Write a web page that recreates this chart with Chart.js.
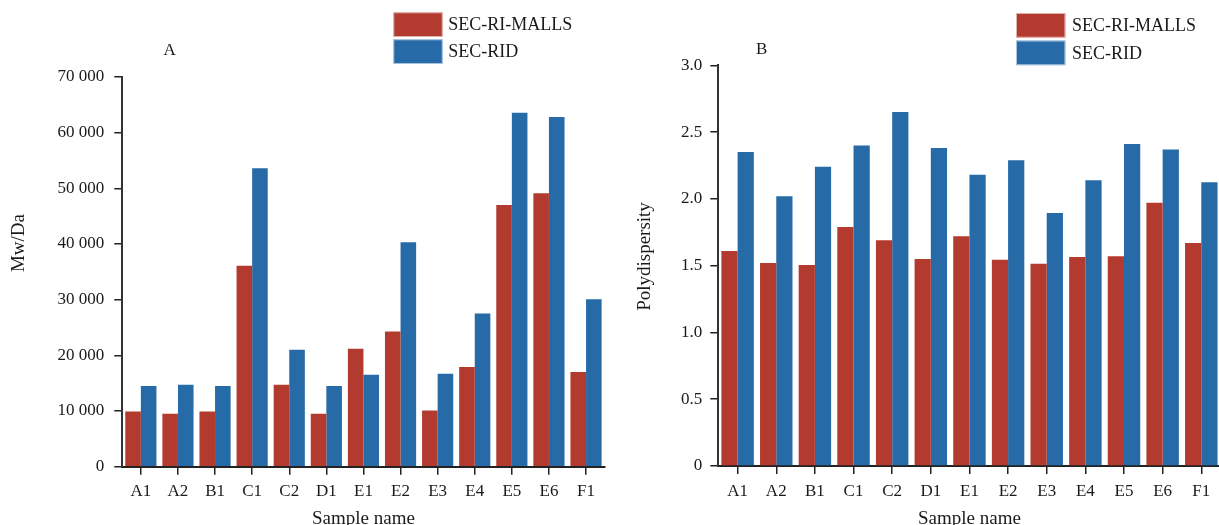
<!DOCTYPE html>
<html>
<head>
<meta charset="utf-8">
<script src="https://cdn.jsdelivr.net/npm/chart.js@4/dist/chart.umd.min.js"></script>
<style>
  html, body { margin: 0; padding: 0; background: #fff; overflow: hidden; }
  #wrap { position: relative; width: 1219px; height: 525px; overflow: hidden; }
  .panel { position: absolute; top: 0; height: 525px; }
  #panelA { left: 0; width: 610px; }
  #panelB { left: 610px; width: 612px; }
</style>
</head>
<body>
<div id="wrap">
  <div class="panel" id="panelA"><canvas id="chartA"></canvas></div>
  <div class="panel" id="panelB"><canvas id="chartB"></canvas></div>
</div>
<script>
// Samples on the category axis
const samples = ['A1', 'A2', 'B1', 'C1', 'C2', 'D1', 'E1', 'E2', 'E3', 'E4', 'E5', 'E6', 'F1'];

// Weight-average molecular weight (Da) by method
const mwMalls = [9900, 9500, 9900, 36100, 14700, 9500, 21200, 24300, 10100, 17900, 47000, 49100, 17000];
const mwRid   = [14500, 14700, 14500, 53600, 21000, 14500, 16500, 40300, 16700, 27500, 63600, 62800, 30100];

// Polydispersity by method
const pdMalls = [1.61, 1.52, 1.505, 1.79, 1.69, 1.55, 1.72, 1.545, 1.515, 1.565, 1.57, 1.97, 1.67];
const pdRid   = [2.35, 2.02, 2.24, 2.40, 2.65, 2.38, 2.18, 2.29, 1.895, 2.14, 2.41, 2.37, 2.125];

// Y-axis tick labels
const mwTickLabels = ['0', '10 000', '20 000', '30 000', '40 000', '50 000', '60 000', '70 000'];
const pdTickLabels = ['0', '0.5', '1.0', '1.5', '2.0', '2.5', '3.0'];

const seriesNames = ['SEC-RI-MALLS', 'SEC-RID'];
const RED = '#b33a2f';
const BLUE = '#266aa8';
const SERIF = '"Liberation Serif", "Times New Roman", serif';
const INK = '#1a1a1a';

Chart.defaults.font.family = SERIF;
Chart.defaults.color = INK;

// Draws the panel letter, the stacked legend and the rotated value-axis title
const panelDecor = {
  id: 'panelDecor',
  afterDraw(chart, args, o) {
    const ctx = chart.ctx;
    ctx.save();
    ctx.fillStyle = INK;
    ctx.font = '17px ' + SERIF;
    ctx.textAlign = 'center';
    ctx.textBaseline = 'alphabetic';
    ctx.fillText(o.letter, o.letterX, o.letterY);

    ctx.font = '18px ' + SERIF;
    ctx.textAlign = 'left';
    ctx.textBaseline = 'middle';
    chart.data.datasets.forEach((ds, i) => {
      const y = o.legendY + i * o.legendStep;
      ctx.fillStyle = ds.backgroundColor;
      ctx.fillRect(o.legendX, y, o.boxW, o.boxH);
      ctx.strokeStyle = 'rgba(255,255,255,0.6)';
      ctx.lineWidth = 1;
      ctx.strokeRect(o.legendX + 0.5, y + 0.5, o.boxW - 1, o.boxH - 1);
      ctx.fillStyle = INK;
      ctx.fillText(ds.label, o.legendTextX, y + o.boxH / 2 + 1);
    });

    ctx.font = '19px ' + SERIF;
    ctx.textAlign = 'center';
    ctx.textBaseline = 'middle';
    ctx.translate(o.yTitleX, o.yTitleY);
    ctx.rotate(-Math.PI / 2);
    ctx.fillText(o.yTitle, 0, 0);
    ctx.restore();
  }
};

function makeChart(canvasId, values, tickLabels, yMax, yStep, geom) {
  return new Chart(document.getElementById(canvasId), {
    type: 'bar',
    data: {
      labels: samples,
      datasets: [
        { label: seriesNames[0], data: values[0], backgroundColor: RED },
        { label: seriesNames[1], data: values[1], backgroundColor: BLUE }
      ]
    },
    options: {
      responsive: true,
      maintainAspectRatio: false,
      animation: false,
      layout: { padding: { left: 0, right: geom.padRight, top: geom.top, bottom: 0 } },
      datasets: { bar: { categoryPercentage: 0.84, barPercentage: 1.0, borderWidth: 0 } },
      plugins: {
        legend: { display: false },
        tooltip: { enabled: false },
        panelDecor: geom.decor
      },
      scales: {
        x: {
          afterFit: s => { s.height = geom.xHeight; },
          grid: { display: true, offset: false, drawOnChartArea: false, drawTicks: true, tickLength: 8, color: '#222', lineWidth: 1.5 },
          border: { display: true, color: '#222', width: 2 },
          ticks: { font: { size: 17 }, color: INK, padding: 7, maxRotation: 0, autoSkip: false },
          title: { display: true, text: 'Sample name', font: { size: 19 }, color: INK, padding: { top: 0, bottom: -5 } }
        },
        y: {
          min: 0,
          max: yMax,
          afterFit: s => { s.width = geom.yWidth; },
          grid: { display: true, drawOnChartArea: false, drawTicks: true, tickLength: 8, color: '#222', lineWidth: 1.5 },
          border: { display: true, color: '#333', width: 2 },
          ticks: {
            stepSize: yStep,
            font: { size: 17 },
            color: INK,
            padding: geom.tickPad,
            callback: (v, i) => tickLabels[i]
          }
        }
      }
    },
    plugins: [panelDecor]
  });
}

makeChart('chartA', [mwMalls, mwRid], mwTickLabels, 70000, 10000, {
  top: 77, padRight: 5.4, xHeight: 58.3, yWidth: 122.3, tickPad: 10,
  decor: {
    letter: 'A', letterX: 169.7, letterY: 55,
    legendX: 393.3, legendY: 12.3, legendStep: 27, boxW: 49.4, boxH: 24.7, legendTextX: 448.3,
    yTitle: 'Mw/Da', yTitleX: 19.3, yTitleY: 243
  }
});

makeChart('chartB', [pdMalls, pdRid], pdTickLabels, 3.0, 0.5, {
  top: 65.3, padRight: 1.4, xHeight: 59, yWidth: 108.3, tickPad: 8,
  decor: {
    letter: 'B', letterX: 151.7, letterY: 54,
    legendX: 406, legendY: 13, legendStep: 27.5, boxW: 49.4, boxH: 24.7, legendTextX: 462,
    yTitle: 'Polydispersity', yTitleX: 35.3, yTitleY: 256.5
  }
});
</script>
</body>
</html>
